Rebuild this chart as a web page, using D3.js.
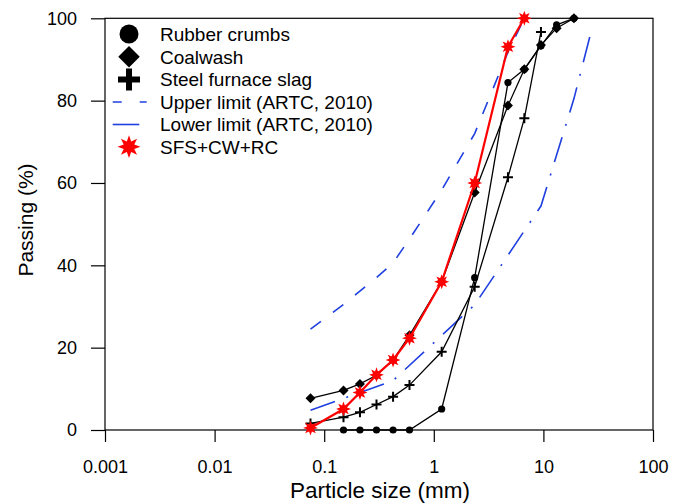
<!DOCTYPE html>
<html>
<head>
<meta charset="utf-8">
<script src="https://cdn.jsdelivr.net/npm/d3@7"></script>
<style>
  body { margin: 0; background: #fff; }
  svg { font-family: "Liberation Sans", Arial, sans-serif; }
</style>
</head>
<body>
<div id="chart"></div>
<script>
// sieve sizes (mm) and % passing
const rcSize   = [0.15, 0.212, 0.3, 0.425, 0.6, 1.18, 2.36, 4.75, 6.7, 9.5, 13.2, 19];
const rcPass   = [0, 0, 0, 0, 0, 5.1, 37, 84.4, 87.6, 93.3, 98.4, 100];
const cwSize   = [0.075, 0.15, 0.212, 0.3, 0.425, 0.6, 1.18, 2.36, 4.75, 6.7, 9.5, 13.2, 19];
const cwPass   = [7.7, 9.6, 11.2, 13.3, 17, 23, 36, 57.7, 78.8, 87.6, 93.5, 97.6, 100];
const sfsSize  = [0.075, 0.15, 0.212, 0.3, 0.425, 0.6, 1.18, 2.36, 4.75, 6.7, 9.5];
const sfsPass  = [1.6, 3.1, 4.3, 6.2, 8.1, 10.9, 19, 34.8, 61.4, 75.7, 96.7];
const mixSize  = [0.075, 0.15, 0.212, 0.3, 0.425, 0.6, 1.18, 2.36, 4.75, 6.7];
const mixPass  = [0.5, 5.1, 9.1, 13.4, 17, 22.3, 36, 60, 93.1, 100];
const upSize   = [0.075, 0.15, 0.3, 0.425, 0.6, 1.18, 2.36, 4.75, 6.7];
const upPass   = [24.5, 30.5, 37, 40.6, 46.4, 58.3, 72, 91.8, 100];
const lowSize  = [0.075, 0.425, 2.36, 9.5, 19, 26.5];
const lowPass  = [4.8, 12, 30.4, 54.4, 80.5, 95.5];

const xTicks = [0.001, 0.01, 0.1, 1, 10, 100];
const xTickLabels = ["0.001", "0.01", "0.1", "1", "10", "100"];
const yTicks = [0, 20, 40, 60, 80, 100];
const legendNames = ["Rubber crumbs", "Coalwash", "Steel furnace slag",
  "Upper limit (ARTC, 2010)", "Lower limit (ARTC, 2010)", "SFS+CW+RC"];

const W = 683, H = 504;
const svg = d3.select("#chart").append("svg")
  .attr("width", W).attr("height", H);

const x = d3.scaleLog().domain([0.001, 100]).range([105, 653]);
const y = d3.scaleLinear().domain([0, 100]).range([430, 18.3]);

const zip = (a, b) => a.map((v, i) => [v, b[i]]);

// minor ticks
const xMinor = [];
for (let e = -3; e < 2; e++) for (let k = 2; k <= 9; k++) xMinor.push(k * Math.pow(10, e));
const yMinor = d3.range(0, 101, 2).filter(v => v % 20 !== 0);

// frame
svg.append("rect")
  .attr("x", x.range()[0]).attr("y", y(100))
  .attr("width", x.range()[1] - x.range()[0]).attr("height", y(0) - y(100))
  .attr("fill", "none").attr("stroke", "#000").attr("stroke-width", 1.2);

// x axis
const gx = svg.append("g").attr("transform", `translate(0,${y(0)})`);
gx.call(d3.axisBottom(x).tickValues(xMinor).tickSize(7).tickFormat(""));
gx.call(d3.axisBottom(x).tickValues(xTicks).tickSize(12).tickPadding(18)
  .tickFormat((d, i) => xTickLabels[i]));
gx.selectAll(".domain").remove();
gx.selectAll("line").attr("stroke", "#000").attr("stroke-width", 1.2);
gx.selectAll("text").attr("font-size", 18).attr("fill", "#000").attr("font-family", null);

// y axis
const gy = svg.append("g").attr("transform", `translate(${x(0.001)},0)`);
gy.call(d3.axisLeft(y).tickValues(yMinor).tickSize(8).tickFormat(""));
gy.call(d3.axisLeft(y).tickValues(yTicks).tickSize(14).tickPadding(14));
gy.selectAll(".domain").remove();
gy.selectAll("line").attr("stroke", "#000").attr("stroke-width", 1.2);
gy.selectAll("text").attr("font-size", 18).attr("fill", "#000").attr("font-family", null);

// axis titles
svg.append("text")
  .attr("x", 380).attr("y", 498)
  .attr("text-anchor", "middle").attr("font-size", 22.5)
  .text("Particle size (mm)");
svg.append("text")
  .attr("transform", "translate(33,220) rotate(-90)")
  .attr("text-anchor", "middle").attr("font-size", 21)
  .text("Passing (%)");

const line = d3.line().x(d => x(d[0])).y(d => y(d[1]));

// marker shapes
const diamond = { draw(ctx, size) {
  const r = Math.sqrt(size / 2);
  ctx.moveTo(0, -r); ctx.lineTo(r, 0); ctx.lineTo(0, r); ctx.lineTo(-r, 0); ctx.closePath();
} };
const star8 = { draw(ctx, size) {
  const R = Math.sqrt(size), r = R * 0.5;
  for (let i = 0; i < 16; i++) {
    const a = i * Math.PI / 8 - Math.PI / 2, rr = i % 2 ? r : R;
    const px = rr * Math.cos(a), py = rr * Math.sin(a);
    i ? ctx.lineTo(px, py) : ctx.moveTo(px, py);
  }
  ctx.closePath();
} };
const plus = (h) => `M${-h},0H${h}M0,${-h}V${h}`;

// limit lines
svg.append("path").datum(zip(upSize, upPass))
  .attr("fill", "none").attr("stroke", "#1f3fe0").attr("stroke-width", 1.6)
  .attr("stroke-dasharray", "13,15").attr("d", line);
svg.append("path").datum(zip(lowSize, lowPass))
  .attr("fill", "none").attr("stroke", "#1f3fe0").attr("stroke-width", 1.6)
  .attr("stroke-dasharray", "26,12,2,12").attr("d", line);

// black series
function series(size, pass) {
  svg.append("path").datum(zip(size, pass))
    .attr("fill", "none").attr("stroke", "#000").attr("stroke-width", 1.3)
    .attr("d", line);
}
series(sfsSize, sfsPass);
series(cwSize, cwPass);
series(rcSize, rcPass);

svg.append("g").selectAll("path").data(zip(sfsSize, sfsPass)).join("path")
  .attr("transform", d => `translate(${x(d[0])},${y(d[1])})`)
  .attr("d", plus(5)).attr("stroke", "#000").attr("stroke-width", 2).attr("fill", "none");
svg.append("g").selectAll("path").data(zip(cwSize, cwPass)).join("path")
  .attr("transform", d => `translate(${x(d[0])},${y(d[1])})`)
  .attr("d", d3.symbol(diamond, 50)).attr("fill", "#000");
svg.append("g").selectAll("circle").data(zip(rcSize, rcPass)).join("circle")
  .attr("cx", d => x(d[0])).attr("cy", d => y(d[1])).attr("r", 3.6).attr("fill", "#000");

// mix series (red)
svg.append("path").datum(zip(mixSize, mixPass))
  .attr("fill", "none").attr("stroke", "#f00").attr("stroke-width", 2.2)
  .attr("d", line);
svg.append("g").selectAll("path").data(zip(mixSize, mixPass)).join("path")
  .attr("transform", d => `translate(${x(d[0])},${y(d[1])})`)
  .attr("d", d3.symbol(star8, 56)).attr("fill", "#f00");

// legend
const lg = svg.append("g");
const rowY = [34, 56.7, 79.5, 102, 124.5, 146.7];
lg.selectAll("text").data(legendNames).join("text")
  .attr("x", 160).attr("y", (d, i) => rowY[i] + 6.8)
  .attr("font-size", 19).text(d => d);
lg.append("circle").attr("cx", 129).attr("cy", rowY[0]).attr("r", 9.5).attr("fill", "#000");
lg.append("path").attr("transform", `translate(129,${rowY[1]})`)
  .attr("d", d3.symbol(diamond, 230)).attr("fill", "#000");
lg.append("path").attr("transform", `translate(129,${rowY[2]})`)
  .attr("d", plus(11)).attr("stroke", "#000").attr("stroke-width", 6);
lg.append("line").attr("x1", 112.7).attr("x2", 146.7).attr("y1", rowY[3]).attr("y2", rowY[3])
  .attr("stroke", "#1f3fe0").attr("stroke-width", 1.6).attr("stroke-dasharray", "9,18");
lg.append("line").attr("x1", 112.7).attr("x2", 139.3).attr("y1", rowY[4]).attr("y2", rowY[4])
  .attr("stroke", "#1f3fe0").attr("stroke-width", 1.6);
lg.append("path").attr("transform", `translate(129,${rowY[5]})`)
  .attr("d", d3.symbol(star8, 130)).attr("fill", "#f00");
</script>
</body>
</html>
